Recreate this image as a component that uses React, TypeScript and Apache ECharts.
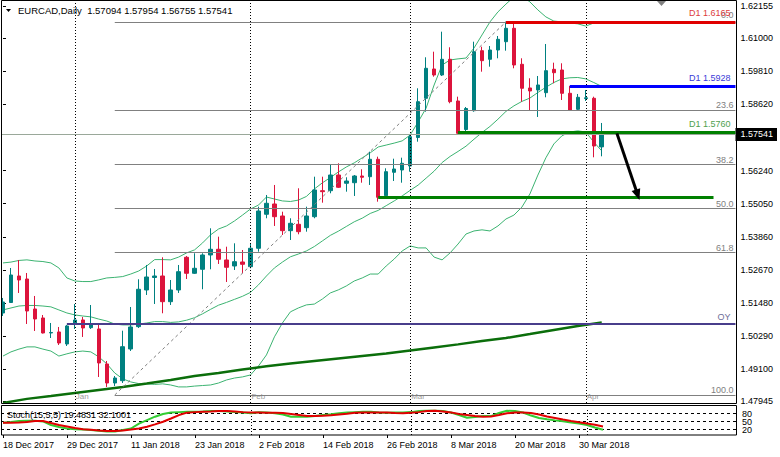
import React, { useEffect, useRef } from 'react';
import * as echarts from 'echarts';

const FONT = '"Liberation Sans", Arial, sans-serif';

// ---------- data ----------
const dateLabels = ['18 Dec 2017', '29 Dec 2017', '11 Jan 2018', '23 Jan 2018', '2 Feb 2018', '14 Feb 2018', '26 Feb 2018', '8 Mar 2018', '20 Mar 2018', '30 Mar 2018'];
const dateLabelIndex = [0, 8, 16, 24, 32, 40, 48, 56, 64, 72];
const monthNames = ['Jan', 'Feb', 'Mar', 'Apr'];
const monthStartIndex = [9, 31, 51, 73];
const priceTicks = [1.47945, 1.491, 1.5029, 1.5148, 1.5267, 1.5386, 1.5505, 1.5624, 1.5862, 1.5981, 1.61, 1.62155];
const lastPrice = 1.57541;
const headerText = 'EURCAD,Daily  1.57094 1.57954 1.56755 1.57541';
const stochText = 'Stoch(15,5,5) 19.4831 32.1001';

// [open, high, low, close]
const ohlc = [
  [1.51119, 1.51659, 1.51011, 1.51515], [1.51497, 1.52738, 1.51479, 1.52486], [1.5245, 1.53026, 1.51839, 1.52306],
  [1.52342, 1.52558, 1.50724, 1.51191], [1.51263, 1.51731, 1.50472, 1.50904], [1.5094, 1.51047, 1.50382, 1.504],
  [1.504, 1.5076, 1.5022, 1.50418], [1.50436, 1.50616, 1.49968, 1.5004], [1.50004, 1.50688, 1.49932, 1.50652],
  [1.50724, 1.51443, 1.50544, 1.50868], [1.50868, 1.50976, 1.50257, 1.5058], [1.50591, 1.51407, 1.50544, 1.50713],
  [1.50544, 1.50688, 1.48817, 1.49321], [1.49285, 1.49393, 1.48458, 1.48601], [1.48601, 1.48853, 1.48494, 1.48781],
  [1.48684, 1.50483, 1.48601, 1.49907], [1.49824, 1.51335, 1.49753, 1.50616], [1.50627, 1.52332, 1.5058, 1.51972],
  [1.51947, 1.52846, 1.51767, 1.52414], [1.52396, 1.52702, 1.51443, 1.5245], [1.5245, 1.53123, 1.51109, 1.51526],
  [1.51526, 1.52306, 1.51407, 1.51947], [1.51947, 1.52846, 1.51839, 1.52605], [1.53123, 1.5317, 1.52342, 1.52547],
  [1.52547, 1.53267, 1.52522, 1.52727], [1.52691, 1.53267, 1.51972, 1.53206], [1.53206, 1.54166, 1.52691, 1.53411],
  [1.53411, 1.53864, 1.52882, 1.53051], [1.53026, 1.53504, 1.52234, 1.52763], [1.5281, 1.53626, 1.52666, 1.52965],
  [1.52954, 1.53385, 1.52547, 1.52871], [1.52785, 1.53626, 1.52727, 1.53447], [1.53447, 1.54943, 1.53324, 1.54788],
  [1.5467, 1.55364, 1.54526, 1.55065], [1.5504, 1.55724, 1.54249, 1.54583], [1.54608, 1.54763, 1.53925, 1.5408],
  [1.5408, 1.54526, 1.53745, 1.54346], [1.5431, 1.55605, 1.5395, 1.54044], [1.54188, 1.54943, 1.54044, 1.54608],
  [1.54583, 1.56022, 1.54526, 1.55544], [1.55518, 1.56022, 1.55087, 1.55483], [1.55518, 1.56479, 1.55425, 1.56083],
  [1.56083, 1.56504, 1.55616, 1.55641], [1.55785, 1.56001, 1.55483, 1.55867], [1.55806, 1.56083, 1.55328, 1.56047],
  [1.56047, 1.56288, 1.55806, 1.56001], [1.56022, 1.56921, 1.55724, 1.56648], [1.56648, 1.56742, 1.55123, 1.55281],
  [1.55339, 1.56324, 1.55303, 1.56202], [1.5618, 1.56669, 1.55867, 1.56299], [1.56263, 1.56706, 1.55806, 1.56504],
  [1.56407, 1.57558, 1.56202, 1.57461], [1.57432, 1.59202, 1.57281, 1.5872], [1.58842, 1.60317, 1.5836, 1.59921],
  [1.59896, 1.60518, 1.59619, 1.5968], [1.5968, 1.61238, 1.59644, 1.60245], [1.60245, 1.60677, 1.58662, 1.5872],
  [1.58745, 1.589, 1.57558, 1.57583], [1.5772, 1.58529, 1.57666, 1.58475], [1.58396, 1.60878, 1.5836, 1.60518],
  [1.60554, 1.60698, 1.59799, 1.60195], [1.60245, 1.60723, 1.59979, 1.60579], [1.60579, 1.61083, 1.60281, 1.60964],
  [1.60878, 1.61597, 1.60554, 1.6136], [1.6136, 1.61569, 1.59921, 1.6004], [1.60065, 1.60281, 1.5872, 1.59202],
  [1.59213, 1.59562, 1.58385, 1.59105], [1.59141, 1.59644, 1.5817, 1.59321], [1.59044, 1.60795, 1.58878, 1.59835],
  [1.59885, 1.60123, 1.59382, 1.59763], [1.5986, 1.60101, 1.58781, 1.59022], [1.59022, 1.59285, 1.58384, 1.58421],
  [1.58446, 1.58997, 1.58421, 1.58878], [1.58835, 1.59141, 1.58745, 1.5886], [1.58842, 1.589, 1.5672, 1.57126],
  [1.57094, 1.57954, 1.56755, 1.57541],
];

const bbUpper = [1.5292, 1.5295, 1.5301, 1.5303, 1.5299, 1.5297, 1.5292, 1.5274, 1.5238, 1.5227,
  1.5225, 1.5225, 1.5231, 1.5238, 1.524, 1.5243, 1.5252, 1.5263, 1.5281, 1.5304,
  1.5304, 1.5303, 1.5313, 1.5328, 1.5339, 1.5364, 1.5393, 1.5414, 1.5425, 1.5443,
  1.5464, 1.5486, 1.55, 1.5529, 1.5522, 1.5515, 1.5513, 1.5518, 1.5531, 1.5558,
  1.558, 1.5599, 1.5619, 1.5637, 1.5652, 1.567, 1.5688, 1.5709, 1.5716, 1.5723,
  1.5731, 1.5752, 1.5799, 1.5849, 1.5932, 1.6004, 1.6022, 1.6026, 1.6029, 1.6065,
  1.6112, 1.6159, 1.6195, 1.6223, 1.6249, 1.6252, 1.6231, 1.6202, 1.6177, 1.6162,
  1.6159, 1.6155, 1.6152, 1.6144, 1.6155, 1.6159];
const bbMiddle = [1.5123, 1.513, 1.5137, 1.5139, 1.5139, 1.5137, 1.5134, 1.5123, 1.5112, 1.5105,
  1.5101, 1.5098, 1.509, 1.5083, 1.5072, 1.5069, 1.5069, 1.5072, 1.5076, 1.5081,
  1.5081, 1.5078, 1.508, 1.5086, 1.5095, 1.5109, 1.5125, 1.514, 1.515, 1.5161,
  1.5172, 1.5186, 1.5213, 1.5245, 1.5274, 1.5295, 1.5314, 1.5324, 1.5335, 1.5351,
  1.5371, 1.5391, 1.5406, 1.5423, 1.544, 1.5453, 1.547, 1.5481, 1.5498, 1.5515,
  1.5533, 1.5553, 1.5572, 1.5597, 1.5622, 1.5653, 1.5675, 1.5693, 1.5712, 1.5737,
  1.5761, 1.5783, 1.5809, 1.5837, 1.5857, 1.5873, 1.5885, 1.5905, 1.5924, 1.5941,
  1.5954, 1.5958, 1.5959, 1.5954, 1.5941, 1.5927];
const bbLower = [1.4957, 1.4972, 1.4982, 1.499, 1.499, 1.4982, 1.4975, 1.4957, 1.4965, 1.4972,
  1.4975, 1.4972, 1.4954, 1.4929, 1.4896, 1.4875, 1.4864, 1.4858, 1.4857, 1.4855,
  1.4857, 1.4853, 1.4846, 1.4846, 1.4849, 1.4851, 1.4853, 1.486, 1.4871, 1.4878,
  1.4882, 1.4889, 1.4921, 1.4961, 1.5026, 1.5076, 1.5116, 1.513, 1.5141, 1.5144,
  1.5162, 1.5184, 1.5195, 1.5209, 1.5227, 1.5238, 1.5252, 1.5252, 1.5281, 1.5306,
  1.5335, 1.5353, 1.5346, 1.5346, 1.5313, 1.5303, 1.5328, 1.536, 1.5396, 1.5407,
  1.5411, 1.5407, 1.5425, 1.545, 1.5464, 1.5493, 1.554, 1.5608, 1.567, 1.572,
  1.5749, 1.5763, 1.5767, 1.5763, 1.5727, 1.5695];

const maIndex = [0, 3, 6, 9, 12, 15, 18, 21, 24, 27, 30, 33, 36, 39, 42, 45, 48, 51, 54, 57, 60, 63, 66, 69, 72, 75];
const maValues = [1.4788, 1.4803, 1.4813, 1.4824, 1.4835, 1.4846, 1.4858, 1.4871, 1.4885, 1.4896, 1.4909, 1.492, 1.493,
  1.4939, 1.4948, 1.4957, 1.4966, 1.4977, 1.4988, 1.4999, 1.5011, 1.5022, 1.5036, 1.5051, 1.5065, 1.5078];

const stochMain = [46, 49, 52.6, 54, 54, 51, 37.6, 30, 24.5, 21.5,
  20.7, 18.9, 16.3, 13, 13, 19, 24.5, 43, 56, 68.8,
  79, 84.5, 86, 87.5, 87.5, 88, 90, 90, 88, 86,
  84.5, 81.5, 86, 84.5, 81.5, 77, 68.8, 68.8, 69, 71,
  75, 77.7, 81.5, 84.5, 86, 87.5, 87, 84.5, 83.8, 84.5,
  85, 86, 90, 91, 91, 90, 84.5, 75, 65, 67.6,
  71, 71, 82.6, 91, 90, 84.5, 73, 64, 59, 55,
  51.5, 47, 43, 37.6, 28, 19.4831];
const stochSignal = [46, 46, 47, 49, 52.6, 52.6, 45, 37.6, 32, 26.4,
  21.5, 20, 17, 15, 15, 17, 20.7, 24.5, 31, 40,
  50, 62, 75, 84, 86, 87.5, 88, 90, 90, 88,
  86, 84.5, 84.5, 83.8, 83.8, 82.6, 79, 75, 71, 71,
  72.5, 74, 77, 80, 83.8, 85, 85, 85, 84.5, 82.6,
  81.5, 83.8, 86, 90, 91, 88, 85, 79, 75, 71,
  68.8, 69.5, 75, 81.5, 84.5, 85, 82.6, 77, 69.5, 64,
  58, 52.6, 47.8, 43, 38.8, 32.1001];
const stochLevels = [20, 50, 80];
const stochTicks = [0, 20, 50, 80, 100];

const fibLabels = ['0.0', '23.6', '38.2', '50.0', '61.8', '100.0'];
const fibPrices = [1.6159, 1.58423, 1.56464, 1.5488, 1.53296, 1.4817];
const fibStartIndex = 14;
const fibEndIndex = 63;

const levelNames = ['D1 1.6165', 'D1 1.5928', 'D1 1.5760', 'D1 1.5528', 'OY'];
const levelPrices = [1.6159, 1.5928, 1.5762, 1.553, 1.50742];
const levelStartIndex = [63, 71, 57, 47, 8];
const levelEndIndex = [91.75, 91.75, 91.75, 89, 91.75];

const arrowFrom = [76.9, 1.5758];
const arrowTo = [79.5, 1.5537];

// ---------- layout / styles ----------
const X_MIN = -0.25;
const X_MAX = 91.75;
const P_MIN = 1.478814;
const P_MAX = 1.623417;
const levelColors = ['#e00000', '#0000ff', '#008000', '#008000', '#483d8b'];
const levelLabelColors = ['#dd3c3c', '#3a3ad8', '#4f9f4f', '#4f9f4f', '#6e6e98'];
const levelWidths = [3, 3, 3, 3, 2];

function buildOption(): any {
  const markLines: any[] = [];
  // vertical period separators
  monthStartIndex.forEach((m) => {
    markLines.push({ xAxis: m, lineStyle: { color: '#000', width: 1, type: [1, 2] }, label: { show: false } });
  });
  // bid line
  markLines.push([
    { coord: [X_MIN, lastPrice], lineStyle: { color: '#9aa89a', width: 1, type: 'solid' }, label: { show: false } },
    { coord: [X_MAX, lastPrice] },
  ]);
  // fibonacci levels
  fibPrices.forEach((p, k) => {
    markLines.push([
      {
        coord: [fibStartIndex, p],
        lineStyle: { color: '#808080', width: 1, type: 'solid' },
        label: { show: true, position: 'insideEndTop', formatter: fibLabels[k], color: '#808080', fontSize: 9, fontFamily: FONT, distance: [2, k === 0 ? 2 : 0] },
      },
      { coord: [X_MAX, p] },
    ]);
  });
  markLines.push([
    { coord: [fibStartIndex, fibPrices[5]], lineStyle: { color: '#808080', width: 1, type: [3, 3] }, label: { show: false } },
    { coord: [fibEndIndex, fibPrices[0]] },
  ]);
  // horizontal levels
  levelPrices.forEach((p, k) => {
    const ends = levelEndIndex[k] < X_MAX;
    markLines.push([
      {
        coord: [levelStartIndex[k], p],
        lineStyle: { color: levelColors[k], width: levelWidths[k], type: 'solid' },
        label: ends ? { show: false } : { show: true, position: 'insideEndTop', formatter: levelNames[k], color: levelLabelColors[k], fontSize: 9, fontFamily: FONT, distance: [5, k === 4 ? 2 : 4] },
      },
      { coord: [levelEndIndex[k], p] },
    ]);
    if (ends) {
      markLines.push([
        {
          coord: [levelStartIndex[k], p],
          lineStyle: { opacity: 0 },
          label: { show: true, position: 'insideEndTop', formatter: levelNames[k], color: levelLabelColors[k], fontSize: 9, fontFamily: FONT, distance: [5, 4] },
        },
        { coord: [X_MAX, p] },
      ]);
    }
  });
  // arrow
  markLines.push([
    { coord: arrowFrom, symbol: 'none', lineStyle: { color: '#000', width: 3, type: 'solid' }, label: { show: false } },
    { coord: arrowTo, symbol: 'triangle', symbolSize: [9, 11] },
  ]);

  const stochMarks: any[] = [];
  stochLevels.forEach((v) => {
    stochMarks.push({ yAxis: v, lineStyle: { color: '#000', width: 1, type: [3, 3] }, label: { show: false } });
  });
  monthStartIndex.forEach((m) => {
    stochMarks.push({ xAxis: m, lineStyle: { color: '#000', width: 1, type: [1, 2] }, label: { show: false } });
  });

  const idxData = (arr: number[]) => arr.map((v, i) => [i, v]);

  return {
    animation: false,
    backgroundColor: '#ffffff',
    textStyle: { fontFamily: FONT, fontSize: 9 },
    grid: [
      { left: 1, top: 1, width: 736, height: 402 },
      { left: 1, top: 408.4, width: 736, height: 26.6 },
    ],
    xAxis: [
      { type: 'value', gridIndex: 0, min: X_MIN, max: X_MAX, show: false },
      {
        type: 'value', gridIndex: 1, min: X_MIN, max: X_MAX,
        axisLine: { show: false },
        splitLine: { show: false },
        axisTick: { show: true, length: 3, lineStyle: { color: '#000' }, customValues: dateLabelIndex },
        axisLabel: {
          customValues: dateLabelIndex,
          formatter: (v: number) => dateLabels[dateLabelIndex.indexOf(Math.round(v))] || '',
          align: 'left', margin: 5, fontSize: 9, color: '#000', fontFamily: FONT,
        },
      },
    ],
    yAxis: [
      {
        type: 'value', gridIndex: 0, min: P_MIN, max: P_MAX, position: 'right',
        axisLine: { show: false }, splitLine: { show: false },
        axisTick: { show: true, length: 3, lineStyle: { color: '#000' }, customValues: priceTicks },
        axisLabel: { customValues: priceTicks, formatter: (v: number) => v.toFixed(5), margin: 5, fontSize: 9, color: '#000', fontFamily: FONT },
      },
      {
        type: 'value', gridIndex: 0, min: P_MIN, max: P_MAX, position: 'right',
        axisLine: { show: false }, splitLine: { show: false }, axisTick: { show: false },
        axisLabel: {
          customValues: [lastPrice], margin: 0,
          formatter: (v: number) => '{b|' + v.toFixed(5) + '}',
          rich: { b: { backgroundColor: '#000', color: '#fff', padding: [2, 4, 2, 5], fontSize: 9, fontFamily: FONT } },
        },
      },
      {
        type: 'value', gridIndex: 1, min: 0, max: 100, position: 'right',
        axisLine: { show: false }, splitLine: { show: false }, axisTick: { show: false },
        axisLabel: { customValues: stochTicks, margin: 5, fontSize: 9, color: '#000', fontFamily: FONT },
      },
    ],
    series: [
      {
        type: 'line', xAxisIndex: 0, yAxisIndex: 0, data: idxData(bbUpper), showSymbol: false, symbol: 'none',
        lineStyle: { color: '#3cb371', width: 1 }, z: 2, silent: true,
      },
      {
        type: 'line', xAxisIndex: 0, yAxisIndex: 0, data: idxData(bbMiddle), showSymbol: false, symbol: 'none',
        lineStyle: { color: '#3cb371', width: 1 }, z: 2, silent: true,
      },
      {
        type: 'line', xAxisIndex: 0, yAxisIndex: 0, data: idxData(bbLower), showSymbol: false, symbol: 'none',
        lineStyle: { color: '#3cb371', width: 1 }, z: 2, silent: true,
      },
      {
        type: 'line', xAxisIndex: 0, yAxisIndex: 0, data: maIndex.map((x, k) => [x, maValues[k]]), showSymbol: false, symbol: 'none',
        lineStyle: { color: '#0b6e0b', width: 2.5 }, z: 2, silent: true,
        markLine: { silent: true, symbol: ['none', 'none'], animation: false, data: markLines, z: 5 },
      },
      {
        type: 'candlestick', xAxisIndex: 0, yAxisIndex: 0,
        data: ohlc.map((r, i) => [i, r[0], r[3], r[2], r[1]]),
        barWidth: 4,
        itemStyle: { color: '#008080', color0: '#dc143c', borderColor: '#008080', borderColor0: '#dc143c', borderWidth: 1 },
        z: 3, silent: true,
      },
      {
        type: 'scatter', xAxisIndex: 0, yAxisIndex: 0,
        data: monthStartIndex.map((m) => [m, 1.48098]),
        symbolSize: 0, silent: true,
        label: { show: true, position: 'right', distance: 1, formatter: (p: any) => monthNames[p.dataIndex], color: '#808080', fontSize: 8, fontFamily: FONT },
      },
      {
        type: 'line', xAxisIndex: 1, yAxisIndex: 2, data: idxData(stochMain), showSymbol: false, symbol: 'none',
        lineStyle: { color: '#32cd32', width: 2 }, z: 3, silent: true,
        markLine: { silent: true, symbol: ['none', 'none'], animation: false, data: stochMarks, z: 1 },
      },
      {
        type: 'line', xAxisIndex: 1, yAxisIndex: 2, data: idxData(stochSignal), showSymbol: false, symbol: 'none',
        lineStyle: { color: '#e00000', width: 2 }, z: 4, silent: true,
      },
    ],
    graphic: [
      { type: 'rect', silent: true, z: 10, shape: { x: 1.5, y: 0.5, width: 735, height: 403 }, style: { fill: 'none', stroke: '#000', lineWidth: 1 } },
      { type: 'rect', silent: true, z: 10, shape: { x: 1.5, y: 405.5, width: 735, height: 29.5 }, style: { fill: 'none', stroke: '#000', lineWidth: 1 } },
      { type: 'polygon', silent: true, z: 10, shape: { points: [[6, 9], [11, 9], [8.5, 12]] }, style: { fill: '#000' } },
      { type: 'polygon', silent: true, z: 10, shape: { points: [[657, 1], [666, 1], [661.5, 6]] }, style: { fill: '#808080' } },
      { type: 'text', silent: true, z: 10, x: 18, y: 10, style: { text: headerText, fill: '#000', fontSize: 9.5, fontFamily: FONT, verticalAlign: 'middle' } },
      { type: 'text', silent: true, z: 10, x: 7, y: 415, style: { text: stochText, fill: '#000', fontSize: 9, fontFamily: FONT, verticalAlign: 'middle' } },
    ],
  };
}

export default function App() {
  const ref = useRef<HTMLDivElement>(null);
  useEffect(() => {
    const chart = echarts.init(ref.current as HTMLDivElement, undefined, { renderer: 'svg' });
    chart.setOption(buildOption());
    return () => chart.dispose();
  }, []);
  return <div ref={ref} style={{ position: 'fixed', left: 0, top: 0, width: 780, height: 457 }} />;
}
